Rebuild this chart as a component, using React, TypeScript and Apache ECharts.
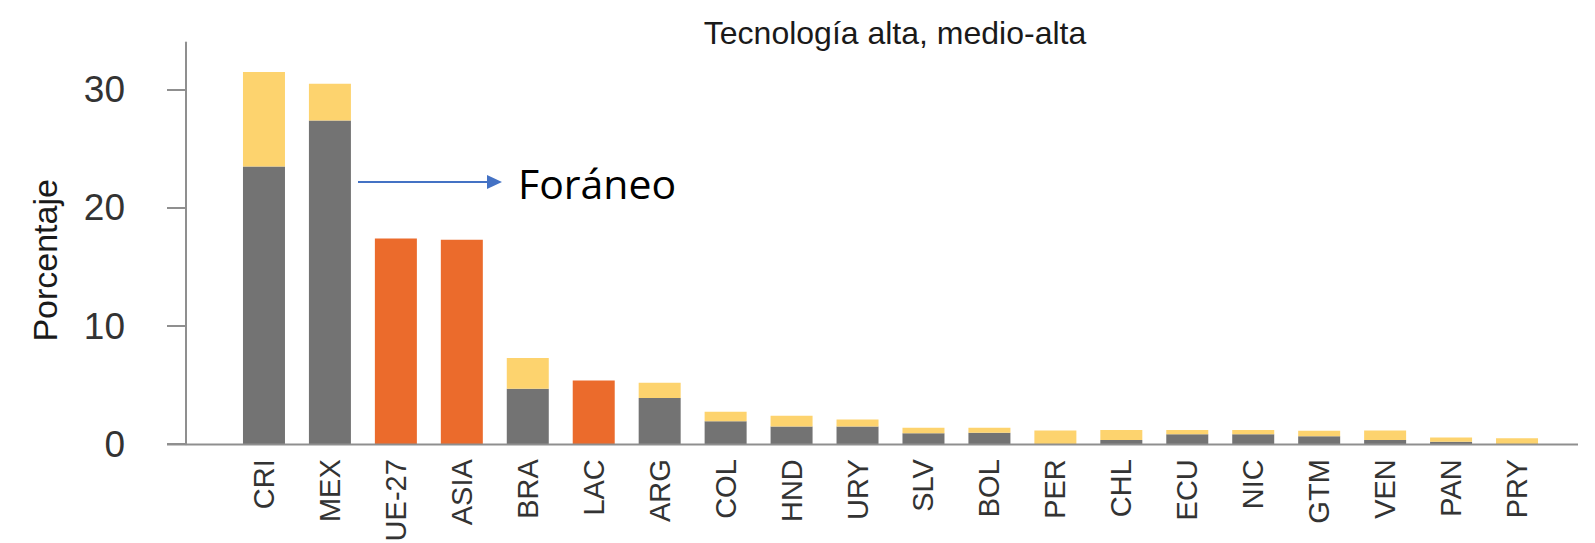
import React, { useEffect, useRef } from "react";
import * as echarts from "echarts";

const categories = ["CRI", "MEX", "UE-27", "ASIA", "BRA", "LAC", "ARG", "COL", "HND", "URY", "SLV", "BOL", "PER", "CHL", "ECU", "NIC", "GTM", "VEN", "PAN", "PRY"];
// Foráneo (gray)
const foreignValues = [23.5, 27.4, null, null, 4.7, null, 3.9, 1.95, 1.5, 1.5, 0.92, 0.97, null, 0.36, 0.84, 0.84, 0.67, 0.36, 0.21, null];
// Additional (yellow) segment on top
const domesticValues = [8.0, 3.1, null, null, 2.6, null, 1.3, 0.8, 0.9, 0.6, 0.48, 0.43, 1.15, 0.84, 0.36, 0.36, 0.46, 0.79, 0.35, 0.5];
// Regional aggregates (orange)
const regionValues = [null, null, 17.4, 17.3, null, 5.4, null, null, null, null, null, null, null, null, null, null, null, null, null, null];
const yTicks = [0, 10, 20, 30];

const titleText = "Tecnología alta, medio-alta";
const yName = "Porcentaje";
const annotationText = "Foráneo";

export default function App() {
  const ref = useRef<HTMLDivElement>(null);
  useEffect(() => {
    if (!ref.current) return;
    const chart = echarts.init(ref.current, null, { renderer: "svg" });
    const axisColor = "#8f8f8f";
    const font = "'Liberation Sans', Arial, sans-serif";
    chart.setOption({
      animation: false,
      backgroundColor: "#ffffff",
      title: {
        text: titleText,
        left: 890,
        top: 12,
        textAlign: "center",
        textStyle: { fontFamily: font, fontSize: 32, fontWeight: "normal", color: "#1a1a1a" },
      },
      grid: { left: 231, right: 45, top: 42.5, bottom: 98.8, outerBoundsMode: "none", containLabel: false },
      xAxis: {
        type: "category",
        data: categories,
        boundaryGap: true,
        axisLine: { show: false },
        axisTick: { show: false },
        axisLabel: { rotate: 90, interval: 0, margin: 15, fontSize: 29, fontFamily: font, color: "#333333" },
      },
      yAxis: {
        type: "value",
        min: 0,
        max: 34,
        interval: 10,
        offset: 45,
        name: yName,
        nameLocation: "middle",
        nameRotate: 90,
        nameGap: 124,
        nameTextStyle: { fontFamily: font, fontSize: 34, color: "#1a1a1a", padding: [0, 34, 0, 0] },
        splitLine: { show: false },
        axisLine: { show: true, lineStyle: { color: axisColor, width: 2 } },
        axisTick: { show: true, length: 19, customValues: yTicks, lineStyle: { color: axisColor, width: 2 } },
        axisLabel: { customValues: yTicks, margin: 61, fontSize: 37, fontFamily: font, color: "#333333" },
      },
      series: [
        { name: "Foráneo", type: "bar", stack: "a", barWidth: 42, data: foreignValues, itemStyle: { color: "#737373" } },
        { name: "Nacional", type: "bar", stack: "a", barWidth: 42, data: domesticValues, itemStyle: { color: "#FDD36E" } },
        { name: "Regional", type: "bar", stack: "a", barWidth: 42, data: regionValues, itemStyle: { color: "#EB6B2C" } },
      ],
      graphic: [
        { type: "line", shape: { x1: 167, y1: 444.5, x2: 1578, y2: 444.5 }, style: { stroke: axisColor, lineWidth: 2 }, z: 10 },
        { type: "line", shape: { x1: 358, y1: 182, x2: 490, y2: 182 }, style: { stroke: "#4472C4", lineWidth: 2 }, z: 10 },
        { type: "polygon", shape: { points: [[487, 175], [502, 182], [487, 189]] }, style: { fill: "#4472C4" }, z: 10 },
        {
          type: "text",
          x: 518,
          y: 183,
          style: { text: annotationText, fontFamily: "'Open Sans', 'Noto Sans', sans-serif", fontSize: 41, fill: "#000000", verticalAlign: "middle", align: "left" },
          z: 10,
        },
      ],
    });
    return () => chart.dispose();
  }, []);
  return <div ref={ref} style={{ position: "absolute", left: 0, top: 0, width: 1595, height: 543 }} />;
}
